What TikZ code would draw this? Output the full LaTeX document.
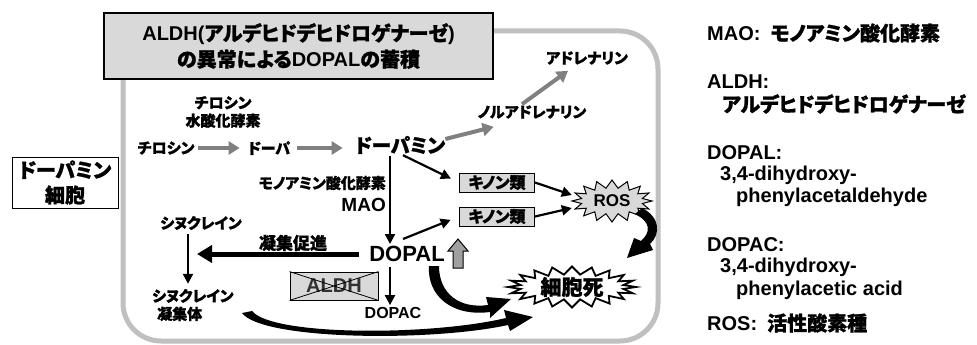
\documentclass[tikz,border=0pt]{standalone}
\usepackage{fontspec}
\setmainfont{Liberation Sans}
\newfontfamily\jp{Noto Sans CJK JP}[RawFeature=+palt, BoldFeatures={FakeBold=1.2}]
\usetikzlibrary{arrows.meta}
\definecolor{cellgray}{RGB}{192,192,192}
\definecolor{arrgray}{RGB}{128,128,128}
\definecolor{boxgray}{RGB}{217,217,217}
\definecolor{upgray}{RGB}{160,160,160}
\definecolor{txtgray}{RGB}{50,50,50}
\newcommand\fsz[2]{\fontsize{#1}{#2}\selectfont}
\begin{document}
\begin{tikzpicture}[x=1pt,y=-1pt,
  lbl/.style={inner sep=0pt, font=\jp\bfseries\fsz{15}{18}, align=center},
  garr/.style={draw=arrgray, line width=4pt, -{Triangle[length=11pt,width=13pt]}},
  barr/.style={draw=black, line width=2.2pt, -{Triangle[length=10pt,width=10pt]}},
  qbox/.style={draw=black, line width=1pt, fill=boxgray, minimum width=75pt, minimum height=19pt, inner sep=0pt, font=\jp\bfseries\fsz{16}{18}},
  bigarr/.style={fill=black},
  burst/.style={draw=black, line join=miter},
  legend/.style={anchor=west, inner sep=0pt, font=\bfseries\fsz{20}{22}}
]
\useasboundingbox (0,0) rectangle (977,345);
\fill[white] (0,0) rectangle (977,345);

% cell outline
\draw[cellgray, line width=5pt, rounded corners=38pt] (123,31) rectangle (658,341);

% title
\node[draw=black, line width=1.3pt, fill=boxgray, minimum width=389pt, minimum height=66pt,
      inner sep=0pt, align=center, font=\bfseries\fsz{20}{26}] (title) at (298.5,46)
  {ALDH({\jp アルデヒドデヒドロゲナーゼ})\\{\jp の異常による}DOPAL{\jp の蓄積}};

% left box
\node[draw=black, line width=1pt, fill=white, minimum width=106pt, minimum height=51pt,
      inner sep=0pt, align=center, font=\jp\bfseries\fsz{20}{25}] (cellbox) at (65,182.5)
  {ドーパミン\\細胞};

% bursts (outlines)
\draw[burst, line width=1pt, fill=boxgray] plot[samples at={0,...,31}]
  ({612+(35.5+4.5*cos(180*\x))*cos(11.25*\x)}, {201+(17+4*cos(180*\x))*sin(11.25*\x)}) -- cycle;
\draw[burst, line width=1.8pt, fill=white] plot[samples at={0,...,39}]
  ({572+(58+6*cos(180*\x))*cos(9*\x)}, {287+(16.5+4*cos(180*\x))*sin(9*\x)}) -- cycle;

% pathway labels
\node[lbl] (th) at (223,112) {チロシン\\水酸化酵素};
\node[lbl] (tyr) at (166,148) {チロシン};
\node[lbl] (dopa) at (269,148) {ドーパ};
\node[lbl, font=\jp\bfseries\fsz{19.5}{22}] (dopamine) at (400,145) {ドーパミン};
\node[lbl] (noradr) at (532,112) {ノルアドレナリン};
\node[lbl] (adr) at (587,58) {アドレナリン};
\node[lbl, anchor=east] (maolbl) at (386,183) {モノアミン酸化酵素};
\node[inner sep=0pt, anchor=east, font=\bfseries\fsz{19}{22}] (mao) at (386,205) {MAO};
\node[qbox] (q1) at (497,182.5) {キノン類};
\node[qbox] (q2) at (497,216.5) {キノン類};
\node[minimum width=80pt, minimum height=42pt, inner sep=0pt, font=\bfseries\fsz{17}{19}] (ros) at (612,201) {ROS};
\node[inner sep=0pt, font=\bfseries\fsz{22}{24}] (dopal) at (407,254) {DOPAL};
\node[inner sep=0pt, font=\bfseries\fsz{16}{18}] (dopac) at (393,313) {DOPAC};
\node[draw=black, line width=0.8pt, fill=boxgray, minimum width=88pt, minimum height=28pt,
      inner sep=0pt, font=\bfseries\fsz{20}{22}, text=txtgray] (aldh) at (334,286) {ALDH};
\draw[line width=0.8pt] (aldh.north west) -- (aldh.south east)
                        (aldh.south west) -- (aldh.north east);
\node[lbl] (syn) at (201,223) {シヌクレイン};
\node[lbl, align=left, anchor=west] (synagg) at (152,305) {シヌクレイン\\\hspace*{5pt}凝集体};
\node[lbl, font=\jp\bfseries\fsz{17}{19}] (agglbl) at (293,243) {凝集促進};
\node[minimum width=126pt, minimum height=36pt, inner sep=0pt, font=\jp\bfseries\fsz{21}{23}] (death) at (572,287) {細胞死};

% helper coordinates
\coordinate (vx) at (390,0);
\coordinate (sx) at (188,0);
\coordinate (aggend) at (197,254);

% gray arrows
\draw[garr, shorten <=3pt, shorten >=8pt] (tyr.east) -- (tyr.east -| dopa.west);
\draw[garr, shorten <=7pt, shorten >=12pt] (dopa.east) -- (dopa.east -| dopamine.west);
\draw[garr] ([yshift=6pt]dopamine.east) -- ([xshift=16pt,yshift=-8pt]noradr.south west);
\draw[garr] ([xshift=-10pt,yshift=1pt]noradr.north) -- ([xshift=-19pt,yshift=-6pt]adr.south);

% black arrows
\draw[barr, shorten <=2pt] (dopamine.south -| vx) -- ([yshift=2pt]dopal.north -| vx);
\draw[barr, shorten >=9pt] ([xshift=3pt,yshift=-1pt]dopamine.south) -- (q1.west);
\draw[barr, shorten >=9pt] ([xshift=-4pt,yshift=7pt]dopal.north) -- (q2.west);
\draw[barr] (q1.east) -- ([yshift=6pt]ros.west);
\draw[barr] (q2.east) -- ([yshift=-7pt]ros.west);
\draw[barr, shorten <=5pt] (dopal.south -| vx) -- ([yshift=2pt]dopac.north -| vx);
\draw[barr, shorten <=4pt, shorten >=5pt] (syn.south -| sx) -- (synagg.north -| sx);
\draw[line width=5pt, -{Triangle[length=15pt,width=17pt]}] ([xshift=-10pt]dopal.west) -- (aggend);

% up arrow next to DOPAL
\filldraw[fill=upgray, draw=black, line width=1pt, line join=miter]
  (453,268) -- (453,251) -- (448,251) -- (458,239) -- (468,251) -- (463,251) -- (463,268) -- cycle;

% big curved arrows
\fill[bigarr] (429,266) .. controls (427,295) and (451,317) .. (490,312)
   -- (490,318) -- (511,299) -- (486,297) -- (488,305)
   .. controls (460,309) and (439,294) .. (439,266) -- cycle;
\fill[bigarr] (242,313) .. controls (262,340) and (430,342) .. (508,325)
   -- (510,331) -- (533,317) -- (504,310) -- (506,318)
   .. controls (430,336) and (272,336) .. (252,311) -- cycle;
\fill[bigarr] (642,208) .. controls (660,217) and (661,234) .. (650,244)
   -- (653,250) -- (627,258) -- (634,238) -- (641,241)
   .. controls (651,232) and (651,222) .. (635,214) -- cycle;

% legend
\node[legend] (lg1) at (707,33) {MAO:\hspace{10pt}{\jp モノアミン酸化酵素}};
\node[legend] (lg2) at (707,82) {ALDH:};
\node[legend] (lg3) at (722,104) {\jp アルデヒドデヒドロゲナーゼ};
\node[legend] (lg4) at (707,153) {DOPAL:};
\node[legend] (lg5) at (720,175) {3,4-dihydroxy-};
\node[legend] (lg6) at (736,197) {phenylacetaldehyde};
\node[legend] (lg7) at (707,245) {DOPAC:};
\node[legend] (lg8) at (720,267) {3,4-dihydroxy-};
\node[legend] (lg9) at (736,290) {phenylacetic acid};
\node[legend] (lg10) at (707,323) {ROS:\hspace{10pt}{\jp 活性酸素種}};
\end{tikzpicture}
\end{document}
